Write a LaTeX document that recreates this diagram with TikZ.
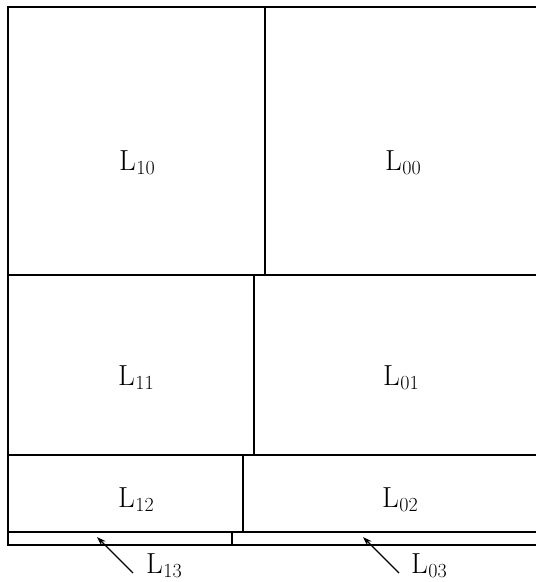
\documentclass[tikz,border=0pt]{standalone}
\usetikzlibrary{arrows.meta}
\newcommand{\Lsub}[1]{L\kern0.5pt{\fontsize{20}{21}\selectfont\raisebox{-4pt}{#1}}}
\tikzset{
  frame/.style={line width=2.2pt, line cap=rect},
  lab/.style={anchor=base, inner sep=0pt, font=\fontsize{29}{34}\selectfont},
  pointer/.style={line width=1.2pt, -{Stealth[length=9pt,width=6pt]}}
}
\begin{document}
\begin{tikzpicture}[x=1pt,y=-1pt]
\useasboundingbox (0,0) rectangle (536,582);
% outer frame and rows
\draw[frame] (540,7) -- (8,7) -- (8,545) -- (540,545);
\draw[frame] (8,275) -- (540,275);
\draw[frame] (8,455) -- (540,455);
\draw[frame] (8,532) -- (540,532);
% dividers
\draw[frame] (265,7) -- (265,275);
\draw[frame] (254,275) -- (254,455);
\draw[frame] (243,455) -- (243,532);
\draw[frame] (232,532) -- (232,545);
% labels
\node[lab] (l10) at (137,170) {\Lsub{10}};
\node[lab] (l00) at (403,170) {\Lsub{00}};
\node[lab] (l11) at (136,385) {\Lsub{11}};
\node[lab] (l01) at (401,385) {\Lsub{01}};
\node[lab] (l12) at (136,507) {\Lsub{12}};
\node[lab] (l02) at (400,507) {\Lsub{02}};
\node[lab] (l13) at (164,573) {\Lsub{13}};
\node[lab] (l03) at (429,573) {\Lsub{03}};
% pointers
\coordinate (t13) at (133,573);
\coordinate (h13) at (97,537);
\coordinate (t03) at (399,573);
\coordinate (h03) at (363,537);
\draw[pointer] (t13) -- (h13);
\draw[pointer] (t03) -- (h03);
\end{tikzpicture}
\end{document}
